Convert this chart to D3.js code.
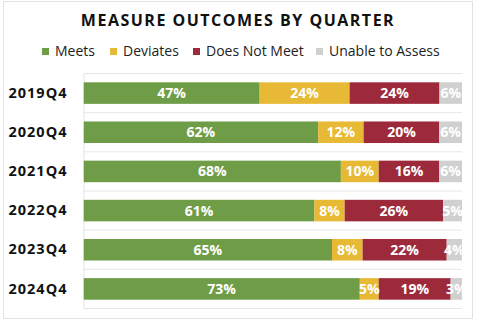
<!DOCTYPE html>
<html>
<head>
<meta charset="utf-8">
<script src="https://cdn.jsdelivr.net/npm/d3@7"></script>
<style>
  body { margin: 0; background: #fff; }
  svg { display: block; font-family: "Open Sans", sans-serif; }
</style>
</head>
<body>
<div class="module"></div>
<script>
// chart data
const quarters = ["2019Q4", "2020Q4", "2021Q4", "2022Q4", "2023Q4", "2024Q4"];
const outcomes = ["Meets", "Deviates", "Does Not Meet", "Unable to Assess"];
const meets       = [47, 62, 68, 61, 65, 73];
const deviates    = [24, 12, 10, 8, 8, 5];
const doesNotMeet = [24, 20, 16, 26, 22, 19];
const unable      = [6, 6, 6, 5, 4, 3];

const colors = ["#6f9d47", "#e7b934", "#9d2a3b", "#d0d0d0"];

const W = 480, H = 336;
const margin = {top: 73.5, right: 18, bottom: 27.5, left: 83.5};
const width = W - margin.left - margin.right,
      height = H - margin.top - margin.bottom;

// build rows, normalised to 100%
const rows = quarters.map((q, i) => {
  const vals = [meets[i], deviates[i], doesNotMeet[i], unable[i]];
  const total = d3.sum(vals);
  let acc = 0;
  const segs = vals.map((v, k) => {
    const s = {quarter: q, key: outcomes[k], value: v, x0: acc / total, x1: (acc + v) / total, k: k};
    acc += v;
    return s;
  });
  return {quarter: q, segs: segs};
});

const svg = d3.select(".module")
  .append("svg")
    .attr("width", W)
    .attr("height", H);

// outer frame
svg.append("rect")
  .attr("x", 3.5).attr("y", 1.5)
  .attr("width", 469).attr("height", 317)
  .attr("fill", "none")
  .attr("stroke", "#e2e2e2");

// title
svg.append("text")
  .attr("x", 238).attr("y", 26)
  .attr("text-anchor", "middle")
  .attr("font-size", 16)
  .attr("font-weight", 700)
  .attr("letter-spacing", 1.5)
  .attr("fill", "#111")
  .text("MEASURE OUTCOMES BY QUARTER");

// legend
const legendX = [42, 110, 193, 316];
const legend = svg.append("g").selectAll("g")
  .data(outcomes)
  .join("g")
    .attr("transform", (d, i) => "translate(" + legendX[i] + ",48)");
legend.append("rect")
  .attr("width", 7).attr("height", 7)
  .attr("fill", (d, i) => colors[i]);
legend.append("text")
  .attr("x", 13).attr("y", 8)
  .attr("font-size", 14)
  .attr("fill", "#222")
  .text(d => d);

const g = svg.append("g")
  .attr("transform", "translate(" + margin.left + "," + margin.top + ")");

const x = d3.scaleLinear().domain([0, 1]).range([0, width]);
const y = d3.scaleBand().domain(quarters).range([0, height]).paddingInner(0.45).paddingOuter(0.225);
const yGrid = d3.scaleBand().domain(quarters).range([0, height]);

// gridlines
g.append("g").selectAll("line")
  .data(quarters.concat(["end"]))
  .join("line")
    .attr("x1", 0).attr("x2", width)
    .attr("y1", (d, i) => i * yGrid.step())
    .attr("y2", (d, i) => i * yGrid.step())
    .attr("stroke", "#e6e6e6");

// y axis
const yAxis = g.append("g")
  .call(d3.axisLeft(y).tickSize(0).tickPadding(16));
yAxis.select(".domain").attr("stroke", "#e3e3e3");
yAxis.selectAll("text")
  .attr("font-family", "Open Sans, sans-serif")
  .attr("font-size", 14.5)
  .attr("font-weight", 700)
  .attr("letter-spacing", 1)
  .attr("fill", "#111");

g.append("clipPath").attr("id", "plotclip")
  .append("rect").attr("x", 0).attr("y", 0).attr("width", width).attr("height", height);

const rowG = g.append("g").attr("clip-path", "url(#plotclip)")
  .selectAll("g")
  .data(rows)
  .join("g")
    .attr("transform", d => "translate(0," + y(d.quarter) + ")");

rowG.selectAll("rect")
  .data(d => d.segs)
  .join("rect")
    .attr("x", d => x(d.x0))
    .attr("width", d => x(d.x1) - x(d.x0))
    .attr("height", y.bandwidth())
    .attr("fill", d => colors[d.k]);

rowG.selectAll("text")
  .data(d => d.segs)
  .join("text")
    .attr("x", d => (x(d.x0) + x(d.x1)) / 2)
    .attr("y", y.bandwidth() / 2)
    .attr("dy", "0.36em")
    .attr("text-anchor", "middle")
    .attr("font-size", 14)
    .attr("font-weight", 700)
    .attr("fill", "#fff")
    .text(d => d.value + "%");
</script>
</body>
</html>
